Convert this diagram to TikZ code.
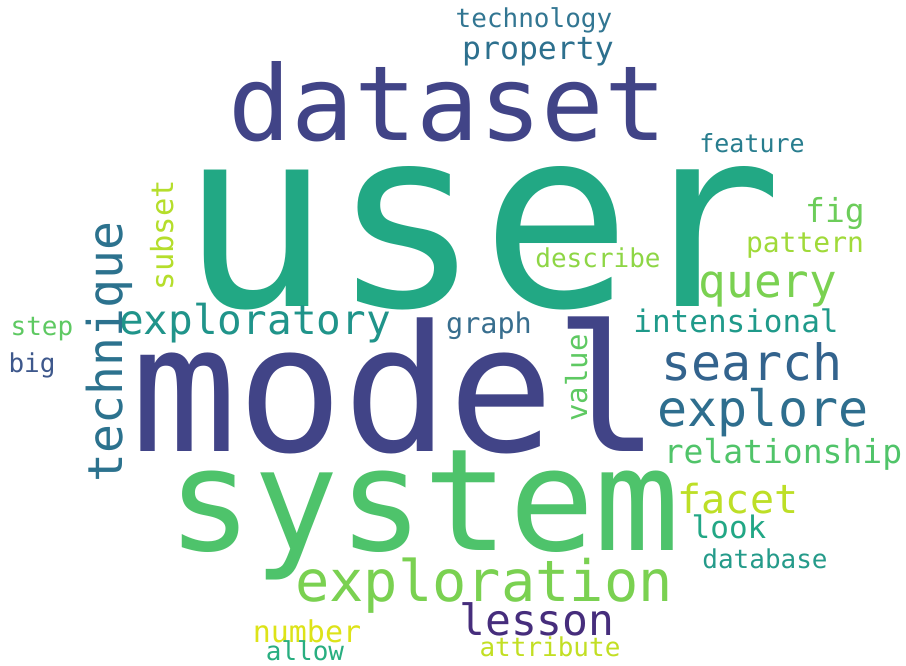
\documentclass[tikz,border=0pt]{standalone}
\usepackage{fontspec}
\newfontfamily\cloudfont{DejaVu Sans Mono}
\newcommand{\wsz}[1]{\cloudfont\fontsize{#1bp}{#1bp}\selectfont}
% viridis-like palette
\definecolor{cUser}{RGB}{34,168,132}
\definecolor{cModel}{RGB}{65,68,135}
\definecolor{cSystem}{RGB}{78,195,107}
\definecolor{cExplor}{RGB}{122,209,81}
\definecolor{cTech}{RGB}{44,114,142}
\definecolor{cExpy}{RGB}{32,148,138}
\definecolor{cQuery}{RGB}{122,209,81}
\definecolor{cSearch}{RGB}{51,99,141}
\definecolor{cExplore}{RGB}{46,110,142}
\definecolor{cLesson}{RGB}{70,45,124}
\definecolor{cFacet}{RGB}{189,223,38}
\definecolor{cRel}{RGB}{80,196,105}
\definecolor{cInt}{RGB}{31,154,138}
\definecolor{cFig}{RGB}{108,205,90}
\definecolor{cPattern}{RGB}{160,218,57}
\definecolor{cDescribe}{RGB}{142,214,69}
\definecolor{cSubset}{RGB}{181,222,43}
\definecolor{cGraph}{RGB}{56,110,142}
\definecolor{cValue}{RGB}{94,201,98}
\definecolor{cProperty}{RGB}{45,112,142}
\definecolor{cTechno}{RGB}{50,118,146}
\definecolor{cFeature}{RGB}{40,125,142}
\definecolor{cLook}{RGB}{34,167,133}
\definecolor{cDatabase}{RGB}{37,155,138}
\definecolor{cNumber}{RGB}{221,227,24}
\definecolor{cAllow}{RGB}{40,174,128}
\definecolor{cAttr}{RGB}{194,223,35}
\definecolor{cStep}{RGB}{94,201,98}
\definecolor{cBig}{RGB}{62,88,140}
\begin{document}
\begin{tikzpicture}[x=1bp,y=-1bp,
  word/.style={inner sep=0pt,outer sep=0pt,anchor=base},
  upword/.style={word,rotate=90}]
\fill[white] (0,0) rectangle (906,666);
\useasboundingbox (0,0) rectangle (906,666);
% horizontal words
\node[word,text=cUser,font=\wsz{250}] (user) at (482,306) {user};
\node[word,text=cModel,font=\wsz{104}] (dataset) at (448,141) {dataset};
\node[word,text=cModel,font=\wsz{176}] (model) at (396,451) {model};
\node[word,text=cSystem,font=\wsz{142}] (system) at (424,550) {system};
\node[word,text=cExplor,font=\wsz{57}] (exploration) at (484,601) {exploration};
\node[word,text=cLesson,font=\wsz{43}] (lesson) at (537,635) {lesson};
\node[word,text=cNumber,font=\wsz{30}] (number) at (307,642) {number};
\node[word,text=cAllow,font=\wsz{26}] (allow) at (305,660) {allow};
\node[word,text=cAttr,font=\wsz{26}] (attribute) at (550,656) {attribute};
\node[word,text=cRel,font=\wsz{33}] (relationship) at (783,463) {relationship};
\node[word,text=cFacet,font=\wsz{40}] (facet) at (738,513) {facet};
\node[word,text=cLook,font=\wsz{31}] (look) at (729,538) {look};
\node[word,text=cDatabase,font=\wsz{26}] (database) at (765,568) {database};
\node[word,text=cExplore,font=\wsz{50}] (explore) at (763,426) {explore};
\node[word,text=cSearch,font=\wsz{50}] (search) at (752,380) {search};
\node[word,text=cInt,font=\wsz{31}] (intensional) at (736,332) {intensional};
\node[word,text=cQuery,font=\wsz{46}] (query) at (768,297) {query};
\node[word,text=cPattern,font=\wsz{28}] (pattern) at (805,252) {pattern};
\node[word,text=cFig,font=\wsz{33}] (fig) at (835,222) {fig};
\node[word,text=cFeature,font=\wsz{25}] (feature) at (752,153) {feature};
\node[word,text=cDescribe,font=\wsz{26}] (describe) at (598,267) {describe};
\node[word,text=cGraph,font=\wsz{28.5}] (graph) at (489,333) {graph};
\node[word,text=cExpy,font=\wsz{41}] (exploratory) at (255,334) {exploratory};
\node[word,text=cStep,font=\wsz{26}] (step) at (42,335) {step};
\node[word,text=cBig,font=\wsz{26}] (big) at (32,372) {big};
\node[word,text=cTechno,font=\wsz{26}] (technology) at (534,28) {technology};
\node[word,text=cProperty,font=\wsz{31.5}] (property) at (538,60) {property};
% vertical words
\node[upword,text=cTech,font=\wsz{48}] (technique) at (122,352) {technique};
\node[upword,text=cSubset,font=\wsz{30.5}] (subset) at (173,235) {subset};
\node[upword,text=cValue,font=\wsz{29}] (value) at (587,378) {value};
\end{tikzpicture}
\end{document}
